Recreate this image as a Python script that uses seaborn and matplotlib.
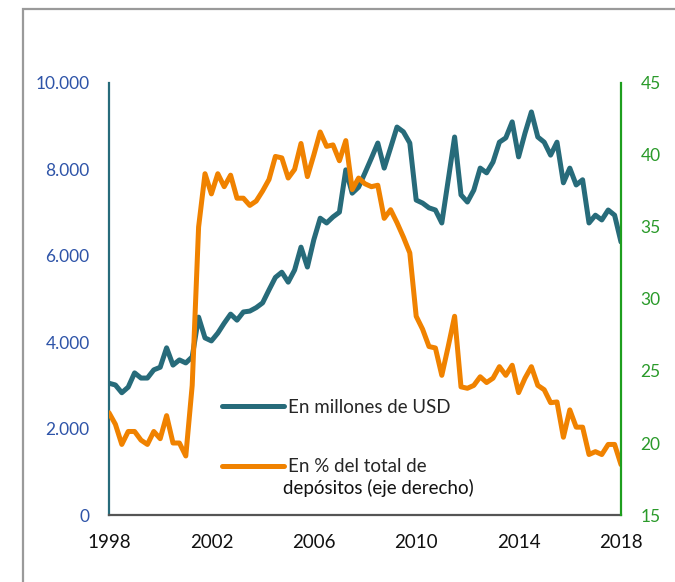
import numpy as np
import pandas as pd
import matplotlib
matplotlib.use('Agg')
import matplotlib.pyplot as plt
import seaborn as sns
from matplotlib.patches import Rectangle

# trimestres 1998T1 .. 2018T1
trimestres = pd.period_range('1998Q1', '2018Q1', freq='Q')

# depositos en millones de USD (eje izquierdo)
millones_usd = [3050, 3010, 2830, 2960, 3290, 3170, 3170, 3360, 3420, 3870,
                3470, 3590, 3520, 3660, 4580, 4100, 4030, 4210, 4440, 4650,
                4510, 4700, 4720, 4800, 4910, 5210, 5500, 5620, 5390, 5670,
                6200, 5740, 6370, 6870, 6760, 6900, 7010, 7990, 7450, 7590,
                7920, 8260, 8610, 8030, 8500, 8980, 8870, 8610, 7290, 7220,
                7110, 7060, 6760, 7750, 8750, 7410, 7245, 7520, 8030, 7920,
                8170, 8630, 8730, 9100, 8290, 8840, 9330, 8750, 8630, 8330,
                8630, 7690, 8030, 7640, 7760, 6760, 6940, 6830, 7060, 6940,
                6320]

# en % del total de depositos (eje derecho)
pct_depositos = [22.1, 21.3, 19.9, 20.8, 20.8, 20.2, 19.9, 20.8, 20.3, 21.9,
                 20.0, 20.0, 19.1, 24.0, 35.0, 38.7, 37.3, 38.7, 37.8, 38.6,
                 37.0, 37.0, 36.5, 36.8, 37.5, 38.3, 39.9, 39.8, 38.4, 39.0,
                 40.8, 38.5, 40.0, 41.6, 40.6, 40.7, 39.6, 41.0, 37.6, 38.4,
                 38.0, 37.8, 37.9, 35.6, 36.2, 35.3, 34.3, 33.2, 28.8, 27.9,
                 26.7, 26.6, 24.7, 26.7, 28.8, 23.9, 23.8, 24.0, 24.6, 24.2,
                 24.5, 25.3, 24.7, 25.4, 23.5, 24.5, 25.3, 24.0, 23.7, 22.8,
                 22.85, 20.4, 22.3, 21.1, 21.1, 19.2, 19.4, 19.2, 19.9, 19.9,
                 18.5]

anios_ticks = [1998, 2002, 2006, 2010, 2014, 2018]
ticks_izq = [0, 2000, 4000, 6000, 8000, 10000]
ticks_der = [15, 20, 25, 30, 35, 40, 45]

df = pd.DataFrame({
    'anio': trimestres.year + (trimestres.quarter - 1) / 4,
    'usd': millones_usd,
    'pct': pct_depositos,
})

sns.set_style('white')
plt.rcParams['font.family'] = ['Lato', 'DejaVu Sans']

teal = '#276B7A'
naranja = '#F08200'
azul = '#2E54A8'
verde = '#2A9A2A'

fig = plt.figure(figsize=(6.75, 5.82), dpi=100)
ax = fig.add_axes([109 / 675, 1 - 515 / 582, (621 - 109) / 675, (515 - 83) / 582])
ax2 = ax.twinx()

sns.lineplot(data=df, x='anio', y='usd', ax=ax, color=teal, linewidth=3.6,
             label='En millones de USD', legend=False)
sns.lineplot(data=df, x='anio', y='pct', ax=ax2, color=naranja, linewidth=3.6,
             label='En % del total de', legend=False)

ax.set_xlim(1998, 2018)
ax.set_ylim(0, 10000)
ax2.set_ylim(15, 45)
ax.set_xticks(anios_ticks)
ax.set_xticklabels([str(a) for a in anios_ticks], fontsize=13.5, color='#111111')
ax.set_yticks(ticks_izq)
ax.set_yticklabels([f'{v:,}'.replace(',', '.') for v in ticks_izq], fontsize=12.5, color=azul)
ax2.set_yticks(ticks_der)
ax2.set_yticklabels([str(v) for v in ticks_der], fontsize=12.5, color=verde)
ax.set_xlabel('')
ax.set_ylabel('')
ax2.set_ylabel('')
ax.tick_params(axis='both', length=0, pad=14)
ax2.tick_params(axis='y', length=0, pad=14)

for a in (ax, ax2):
    a.spines['top'].set_visible(False)
    a.grid(False)
ax.spines['left'].set_color(teal)
ax.spines['left'].set_linewidth(1.6)
ax.spines['bottom'].set_color('#555555')
ax.spines['bottom'].set_linewidth(1.6)
ax.spines['right'].set_visible(False)
ax2.spines['left'].set_visible(False)
ax2.spines['bottom'].set_visible(False)
ax2.spines['right'].set_color('#1E9E1E')
ax2.spines['right'].set_linewidth(1.6)

h1, l1 = ax.get_legend_handles_labels()
h2, l2 = ax2.get_legend_handles_labels()
fig.legend(h1 + h2, l1 + l2, loc='upper left', bbox_to_anchor=(222 / 675, 1 - 399 / 582),
           frameon=False, fontsize=13.5, handlelength=3.3, handletextpad=0.2,
           borderpad=0, borderaxespad=0, labelspacing=2.25)
fig.text(283 / 675, 1 - 488 / 582, 'depósitos (eje derecho)', fontsize=13.5,
         va='center', ha='left', color='#111111')

# marco gris del recuadro
fig.patches.append(Rectangle((23 / 675, -0.1), 1.0, 0.1 + 1 - 9 / 582, transform=fig.transFigure,
                             fill=False, edgecolor='#9A9A9A', linewidth=1.6))

fig.savefig('out.png', dpi=100)
